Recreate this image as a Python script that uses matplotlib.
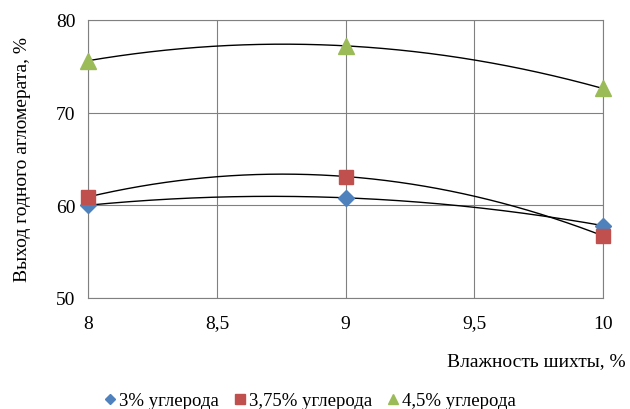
import numpy as np
import matplotlib.pyplot as plt

plt.rcParams['font.family'] = ['Liberation Serif', 'DejaVu Serif']

# Влажность шихты, %
moisture = [8, 9, 10]
# Выход годного агломерата, % for each carbon content
yield_3 = [60.0, 60.8, 57.8]
yield_375 = [60.9, 63.1, 56.7]
yield_45 = [75.6, 77.2, 72.6]

labels = ['3% углерода', '3,75% углерода', '4,5% углерода']
colors = ['#4F81BD', '#C0504D', '#9BBB59']
markers = ['D', 's', '^']
msizes = [8, 10, 11]

x_ticks = [8, 8.5, 9, 9.5, 10]
x_tick_labels = ['8', '8,5', '9', '9,5', '10']
y_ticks = [50, 60, 70, 80]

fig = plt.figure(figsize=(6.3, 4.1), dpi=100)
ax = fig.add_axes([0.14, 0.271, 0.817, 0.678])

xs = np.linspace(8, 10, 200)
for ys, lab, c, m, ms in zip([yield_3, yield_375, yield_45], labels, colors, markers, msizes):
    # polynomial trend line (2nd order) like in Excel
    coef = np.polyfit(moisture, ys, 2)
    ax.plot(xs, np.polyval(coef, xs), color='black', linewidth=1.0, zorder=2)
    ax.plot(moisture, ys, linestyle='none', marker=m, markersize=ms,
            color=c, label=lab, zorder=3, clip_on=False)

ax.set_xlim(8, 10)
ax.set_ylim(50, 80)
ax.set_xticks(x_ticks)
ax.set_xticklabels(x_tick_labels)
ax.set_yticks(y_ticks)
ax.tick_params(length=0, labelsize=14)
ax.tick_params(axis='x', pad=12)
ax.tick_params(axis='y', pad=9)
ax.grid(True, color='#808080', linewidth=0.8)
for s in ax.spines.values():
    s.set_color('#808080')
    s.set_linewidth(0.8)

ax.set_ylabel('Выход годного агломерата, %', fontsize=14, va='center')
ax.yaxis.set_label_coords(-0.128, 0.5)
fig.text(0.993, 0.117, 'Влажность шихты, %', fontsize=14, ha='right', va='center')

fig.legend(loc='center', bbox_to_anchor=(0.491, 0.02), ncol=3, frameon=False,
           fontsize=13.5, handletextpad=0.05, columnspacing=0.75, markerscale=0.65,
           handlelength=0.8, borderpad=0)

fig.savefig('out.png', dpi=100)
